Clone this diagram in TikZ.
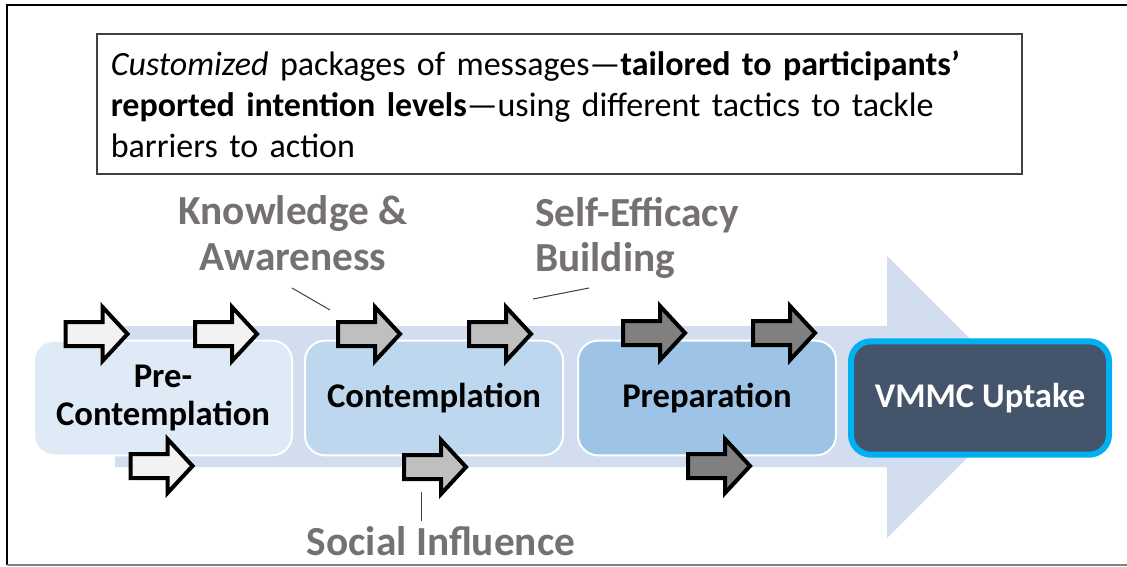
\documentclass[tikz,border=0pt]{standalone}
\usepackage{fontspec}
\setmainfont{Carlito}
\usepackage{tikz}

\begin{document}
\begin{tikzpicture}[x=0.75pt,y=0.75pt,yscale=-1,xscale=1,
  stage/.style={draw=white, line width=1.5pt, rounded corners=15pt, minimum width=193.5pt, minimum height=86pt, align=center, inner sep=0pt, font=\fontsize{26}{28.5}\selectfont\bfseries},
  lbl/.style={inner sep=0pt, color={rgb, 255:red, 118; green, 113; blue, 113}, font=\fontsize{31}{34}\selectfont\bfseries},
  leader/.style={color={rgb, 255:red, 64; green, 64; blue, 64}, line width=0.75pt},
  blockarr/.pic={\draw[pic actions, line width=3pt, line join=miter] (-31,-12) -- (6,-12) -- (6,-27) -- (31,0) -- (6,27) -- (6,12) -- (-31,12) -- cycle;}
  ]
\useasboundingbox[fill=white] (0,0) rectangle (1127,567);

%Frame
\draw [line width=1.5pt]   (1127,5) -- (7,5) -- (7,565) ;
\draw [color={rgb, 255:red, 128; green, 128; blue, 128 }, line width=1pt]   (7,565) -- (1127,565) ;

%Big arrow
\fill [color={rgb, 255:red, 210; green, 222; blue, 239 }]   (115,326) -- (887,326) -- (887,256) -- (1028,397) -- (887,538) -- (887,467) -- (115,467) -- cycle ;

%Stages
\node [stage, fill={rgb, 255:red, 222; green, 234; blue, 246 }] (pre) at (163,398) {Pre-\\Contemplation};
\node [stage, fill={rgb, 255:red, 189; green, 215; blue, 238 }] (con) at (434,398) {Contemplation};
\node [stage, fill={rgb, 255:red, 157; green, 195; blue, 230 }] (prep) at (707,398) {Preparation};
\node [stage, draw={rgb, 255:red, 0; green, 176; blue, 240 }, line width=4.5pt, fill={rgb, 255:red, 68; green, 84; blue, 106 }, text=white, minimum height=85pt] (vmmc) at (980,398) {VMMC Uptake};

%Block arrows
\pic [fill={rgb, 255:red, 242; green, 242; blue, 242 }] (a1) at (96.5,334) {blockarr};
\pic [fill={rgb, 255:red, 242; green, 242; blue, 242 }] (a2) at (226,334) {blockarr};
\pic [fill={rgb, 255:red, 242; green, 242; blue, 242 }] (a7) at (161.5,466) {blockarr};
\pic [fill={rgb, 255:red, 191; green, 191; blue, 191 }] (a3) at (369,334) {blockarr};
\pic [fill={rgb, 255:red, 191; green, 191; blue, 191 }] (a4) at (500,334) {blockarr};
\pic [fill={rgb, 255:red, 191; green, 191; blue, 191 }] (a8) at (435,467) {blockarr};
\pic [fill={rgb, 255:red, 128; green, 128; blue, 128 }] (a5) at (654,333) {blockarr};
\pic [fill={rgb, 255:red, 128; green, 128; blue, 128 }] (a6) at (784,333) {blockarr};
\pic [fill={rgb, 255:red, 128; green, 128; blue, 128 }] (a9) at (719,466) {blockarr};

% Text Node
\node [draw={rgb, 255:red, 64; green, 64; blue, 64 }, line width=1.2pt, anchor=north west, minimum width=693.75pt, minimum height=105pt, inner xsep=10.5pt, inner ysep=0pt, text width=672.75pt, align=left, font=\fontsize{25.5}{30.75}\selectfont] (msg) at (96,33) {\textit{Customized} packages of messages—\textbf{tailored to participants’}\\\textbf{reported intention levels}—using different tactics to tackle\\barriers to action};
% Text Node
\node [lbl, align=center] (know) at (293,233) {Knowledge \&\\Awareness};
% Text Node
\node [lbl, align=left, anchor=west] (self) at (535,238) {Self-Efficacy\\Building};
% Text Node
\node [lbl, anchor=base] (soc) at (441,555) {Social Influence};

%Leader lines
\coordinate (kaA) at (292,288);
\coordinate (kaB) at (330,310);
\coordinate (seA) at (589,288);
\coordinate (seB) at (533,299);
\coordinate (siA) at (421,492);
\coordinate (siB) at (421,521);
\draw [leader]   (kaA) -- (kaB) ;
\draw [leader]   (seA) -- (seB) ;
\draw [leader]   (siA) -- (siB) ;
\end{tikzpicture}
\end{document}
